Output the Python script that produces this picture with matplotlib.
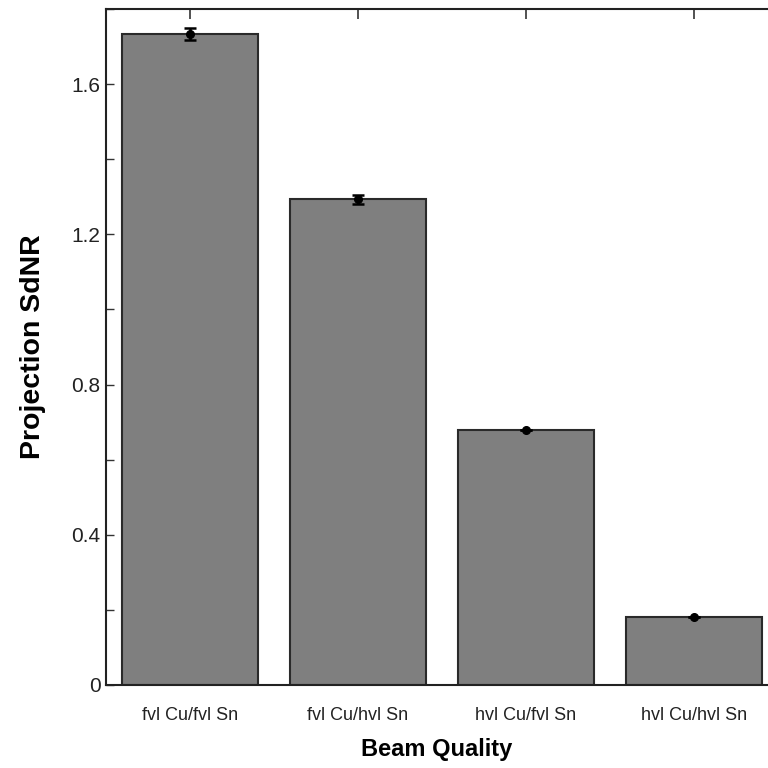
import matplotlib.pyplot as plt
from matplotlib.ticker import MultipleLocator

categories = ["fvl Cu/fvl Sn", "fvl Cu/hvl Sn", "hvl Cu/fvl Sn", "hvl Cu/hvl Sn"]
sdnr = [1.733, 1.293, 0.680, 0.182]
sdnr_err = [0.016, 0.012, 0.0, 0.0]

plt.rcParams["font.family"] = ["Liberation Sans", "DejaVu Sans"]

fig = plt.figure(figsize=(7.68, 7.68), dpi=100)
ax = fig.add_axes([106 / 768, 1 - 685 / 768, 1 - 106 / 768, 676 / 768])

x = range(len(categories))
ax.bar(x, sdnr, width=0.81, color="#7f7f7f", edgecolor="#2a2a2a", linewidth=1.5, zorder=2)
ax.errorbar(x, sdnr, yerr=sdnr_err, fmt="o", color="black", markersize=5.5,
            capsize=4, elinewidth=1.8, capthick=1.8, zorder=3)

ax.set_xlim(-0.5, 3.44)
ax.set_ylim(0, 1.8)
ax.yaxis.set_major_locator(MultipleLocator(0.4))
ax.yaxis.set_minor_locator(MultipleLocator(0.2))
ax.yaxis.set_major_formatter(plt.FuncFormatter(lambda v, p: "0" if v == 0 else f"{v:.1f}"))
ax.tick_params(axis="y", which="both", direction="in", length=6, width=1, labelsize=15,
               colors="#333333", labelcolor="#222222", pad=4)
ax.set_xticks(list(x))
ax.set_xticklabels(categories, fontsize=13, color="#222222")
ax.tick_params(axis="x", which="both", direction="in", length=7, width=1.2, top=True,
               bottom=False, pad=16, colors="#333333", labelcolor="#222222")

for side in ["left", "bottom", "top"]:
    ax.spines[side].set_linewidth(1.5)
    ax.spines[side].set_color("#222222")
ax.spines["right"].set_visible(False)

ax.set_xlabel("Beam Quality", fontsize=17, fontweight="bold", labelpad=10)
ax.set_ylabel("Projection SdNR", fontsize=20.5, fontweight="bold", labelpad=18)

fig.savefig("out.png", dpi=100)
